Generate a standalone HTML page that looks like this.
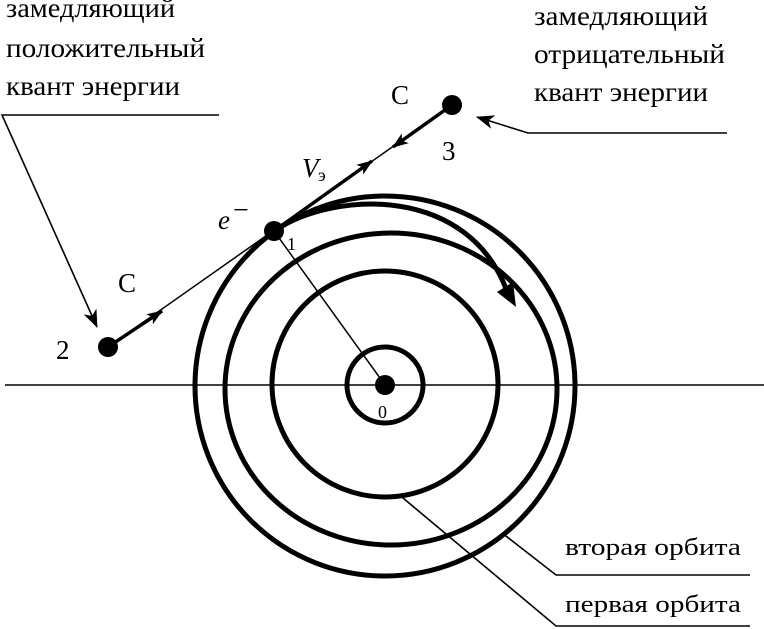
<!DOCTYPE html>
<html><head><meta charset="utf-8"><style>
html,body{margin:0;padding:0;background:#fff;width:764px;height:629px;overflow:hidden}
svg text{font-family:"Liberation Serif","Noto Serif CJK SC",serif;fill:#000}
</style></head><body>
<svg width="764" height="629" viewBox="0 0 764 629" xmlns="http://www.w3.org/2000/svg">
<defs>
<marker id="a" markerWidth="16" markerHeight="12" refX="15" refY="6" orient="auto" markerUnits="userSpaceOnUse"><path d="M0,0 L16,6 L0,12 L4,6 z" fill="#000"/></marker>
<marker id="b" markerWidth="18" markerHeight="14" refX="17" refY="7" orient="auto" markerUnits="userSpaceOnUse"><path d="M0,0 L18,7 L0,14 L5,7 z" fill="#000"/></marker>
</defs>
<line x1="5" y1="385" x2="764" y2="385" stroke="#000" stroke-width="1.6"/>
<g fill="none" stroke="#000" stroke-width="5">
<circle cx="385" cy="385" r="38"/>
<circle cx="385" cy="384" r="113"/>
<ellipse cx="391" cy="389" rx="166" ry="156"/>
<circle cx="385" cy="386" r="190"/>
<path d="M274,231 C335,190 470,185 508,294"/>
</g>
<path d="M497,292 L516,307 L513,282 z" fill="#000"/>
<line x1="274" y1="231" x2="385" y2="385" stroke="#000" stroke-width="1.5"/>
<circle cx="385" cy="385" r="10" fill="#000"/>
<line x1="108" y1="347" x2="452" y2="105" stroke="#000" stroke-width="1.5"/>
<line x1="108" y1="347" x2="162" y2="311" stroke="#000" stroke-width="3.5" marker-end="url(#a)"/>
<line x1="274" y1="231" x2="372" y2="161" stroke="#000" stroke-width="3.5" marker-end="url(#a)"/>
<line x1="452" y1="105" x2="393" y2="147" stroke="#000" stroke-width="3.5" marker-end="url(#a)"/>
<circle cx="108" cy="347" r="10" fill="#000"/>
<circle cx="274" cy="231" r="10" fill="#000"/>
<circle cx="452" cy="105" r="10" fill="#000"/>
<polyline points="219,115 2,115 97,327" fill="none" stroke="#000" stroke-width="1.6" marker-end="url(#b)"/>
<polyline points="727,133 528,133 477,117" fill="none" stroke="#000" stroke-width="1.6" marker-end="url(#b)"/>
<polyline points="502,533 556,575 750,575" fill="none" stroke="#000" stroke-width="1.6"/>
<polyline points="403,498 556,626 750,626" fill="none" stroke="#000" stroke-width="1.6"/>
<g font-size="27">
<text x="6" y="17" textLength="169" lengthAdjust="spacingAndGlyphs">замедляющий</text>
<text x="6" y="57" textLength="199" lengthAdjust="spacingAndGlyphs">положительный</text>
<text x="6" y="95" textLength="174" lengthAdjust="spacingAndGlyphs">квант энергии</text>
<text x="534" y="25" textLength="174" lengthAdjust="spacingAndGlyphs">замедляющий</text>
<text x="534" y="63" textLength="191" lengthAdjust="spacingAndGlyphs">отрицательный</text>
<text x="534" y="101" textLength="174" lengthAdjust="spacingAndGlyphs">квант энергии</text>
</g>
<g font-size="24">
<text x="565" y="555" textLength="176" lengthAdjust="spacingAndGlyphs">вторая орбита</text>
<text x="565" y="612" textLength="176" lengthAdjust="spacingAndGlyphs">первая орбита</text>
</g>
<g font-size="27">
<text x="391" y="104">С</text>
<text x="118" y="292">С</text>
<text x="56" y="359">2</text>
<text x="442" y="160">3</text>
<text x="218" y="229" font-style="italic">e</text>
<text x="302" y="177" font-style="italic">V</text>
</g>
<text x="233" y="219" font-size="28">−</text>
<text x="318" y="181" font-size="18">э</text>
<text x="287" y="250" font-size="18">1</text>
<text x="378" y="418" font-size="18">0</text>
</svg>
</body></html>
